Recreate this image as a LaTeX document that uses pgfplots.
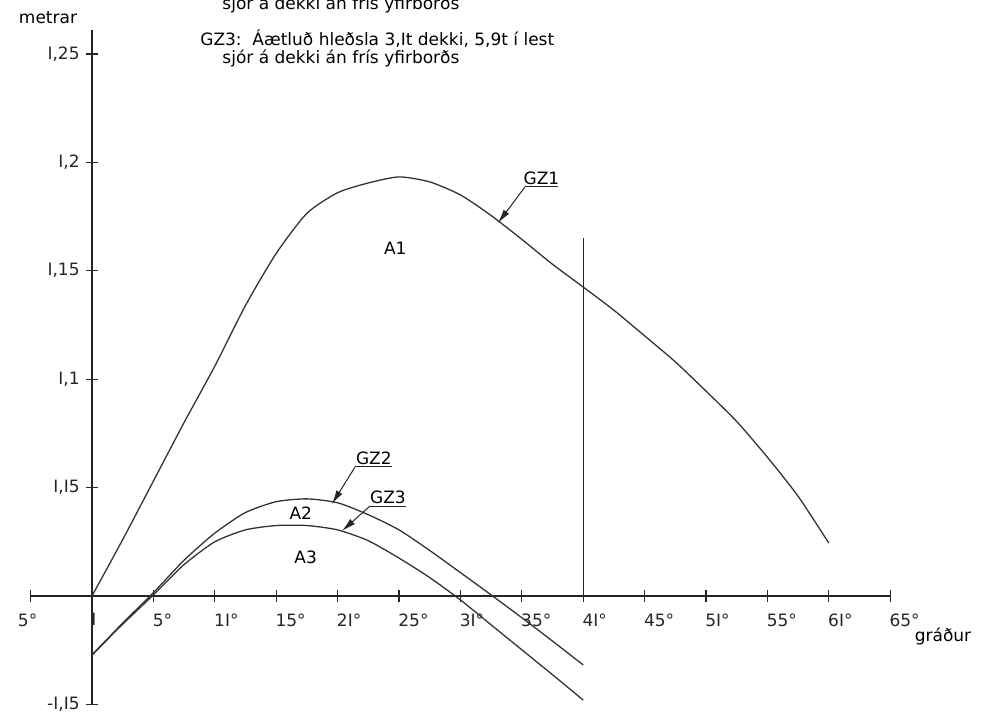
\documentclass[border=0pt]{standalone}
\usepackage{fontspec}
\setmainfont{DejaVu Sans}
\usepackage{pgfplots}
\pgfplotsset{compat=1.18}
\usetikzlibrary{arrows.meta}

\pgfplotstableread{
deg gz
0 0
2.5 0.026
5 0.053
7.5 0.080
10 0.106
12.5 0.134
15 0.158
17.5 0.1765
20 0.186
22.5 0.1905
25 0.1933
27.5 0.191
30 0.185
32.5 0.1755
35 0.1645
37.5 0.153
40 0.1425
42.5 0.1318
45 0.120
47.5 0.108
50 0.0945
52.5 0.0805
55 0.064
57.5 0.046
60 0.0244
}\gzone

\pgfplotstableread{
deg gz
0 -0.0272
2.5 -0.0125
5 0.0015
7.5 0.0165
10 0.029
12.5 0.0385
15 0.0435
17.5 0.0448
20 0.0430
22.5 0.0375
25 0.0305
27.5 0.021
30 0.0108
32.5 0.0005
35 -0.0100
37.5 -0.0208
40 -0.0318
}\gztwo

\pgfplotstableread{
deg gz
0 -0.0272
2.5 -0.013
5 0.0005
7.5 0.0145
10 0.025
12.5 0.0305
15 0.0325
17.5 0.0325
20 0.0305
22.5 0.0255
25 0.0175
27.5 0.0085
30 -0.0018
32.5 -0.0133
35 -0.0248
37.5 -0.0363
40 -0.048
}\gzthree

\begin{document}
\begin{tikzpicture}[font=\fontsize{8.5}{10}\selectfont]
\begin{axis}[
  x=6.14pt, y=1084pt,
  axis lines=middle,
  axis line style={-, line width=0.8pt, black!85},
  xmin=-5, xmax=65, ymin=-0.05, ymax=0.261,
  enlargelimits=false, clip=false,
  xtick={-5,0,5,10,15,20,25,30,35,40,45,50,55,60,65},
  xticklabels={{\kern-6pt 5°},I,5°,1I°,15°,2I°,25°,3I°,35°,4I°,45°,5I°,55°,6I°,65°},
  ytick={-0.05,0.05,0.1,0.15,0.2,0.25},
  yticklabels={{-I,I5},{I,I5},{I,1},{I,15},{I,2},{I,25}},
  hide obscured x ticks=false,
  hide obscured y ticks=false,
  tick align=center,
  major tick length=6pt,
  tick style={line width=0.6pt, black!85},
  x tick label style={anchor=north west, inner sep=0pt, yshift=-5.5pt, xshift=-0.5pt},
  y tick label style={anchor=east, inner sep=0pt, xshift=-3pt},
  ticklabel style={font=\fontsize{8.5}{10}\selectfont, text=black!85},
]
\addplot[black!80, line width=0.65pt, smooth, tension=0.4] table[x=deg, y=gz] {\gzone};
\addplot[black!80, line width=0.65pt, smooth, tension=0.4] table[x=deg, y=gz] {\gztwo};
\addplot[black!80, line width=0.65pt, smooth, tension=0.4] table[x=deg, y=gz] {\gzthree};
\addplot[black!85, line width=0.65pt] coordinates {(40,0) (40,0.165)};

% annotations
\draw[black!85, line width=0.5pt] (axis cs:35.26,0.1887) -- (axis cs:37.95,0.1887);
\draw[black!85, line width=0.5pt, -{Latex[length=7pt,width=3.5pt]}] (axis cs:35.26,0.1887) -- (axis cs:33.06,0.1720);
\node[anchor=south, inner sep=1pt] at (axis cs:36.6,0.1887) {GZ1};

\draw[black!85, line width=0.5pt] (axis cs:21.42,0.0595) -- (axis cs:24.43,0.0595);
\draw[black!85, line width=0.5pt, -{Latex[length=7pt,width=3.5pt]}] (axis cs:21.42,0.0595) -- (axis cs:19.54,0.0424);
\node[anchor=south, inner sep=1pt] at (axis cs:22.95,0.0595) {GZ2};

\draw[black!85, line width=0.5pt] (axis cs:22.64,0.0415) -- (axis cs:25.57,0.0415);
\draw[black!85, line width=0.5pt, -{Latex[length=7pt,width=3.5pt]}] (axis cs:22.64,0.0415) -- (axis cs:20.36,0.0300);
\node[anchor=south, inner sep=1pt] at (axis cs:24.1,0.0415) {GZ3};

\node at (axis cs:24.7,0.1605) {A1};
\node at (axis cs:17.0,0.0383) {A2};
\node at (axis cs:17.4,0.0180) {A3};

\node at (axis cs:-3.58,0.2666) {metrar};
\node at (axis cs:69.3,-0.01845) {gráður};

\node[anchor=west, inner sep=0pt] at (axis cs:10.59,0.2728) {sjór á dekki án frís yfirborðs};
\node[anchor=west, inner sep=0pt] at (axis cs:8.79,0.2572) {GZ3:\ \ Áætluð hleðsla 3,It dekki, 5,9t í lest};
\node[anchor=west, inner sep=0pt] at (axis cs:10.59,0.2478) {sjór á dekki án frís yfirborðs};

\coordinate (BL) at (axis cs:-7.49,-0.05535);
\coordinate (TR) at (axis cs:72.8,0.2749);
\end{axis}
\pgfresetboundingbox
\useasboundingbox (BL) rectangle (TR);
\end{tikzpicture}
\end{document}
